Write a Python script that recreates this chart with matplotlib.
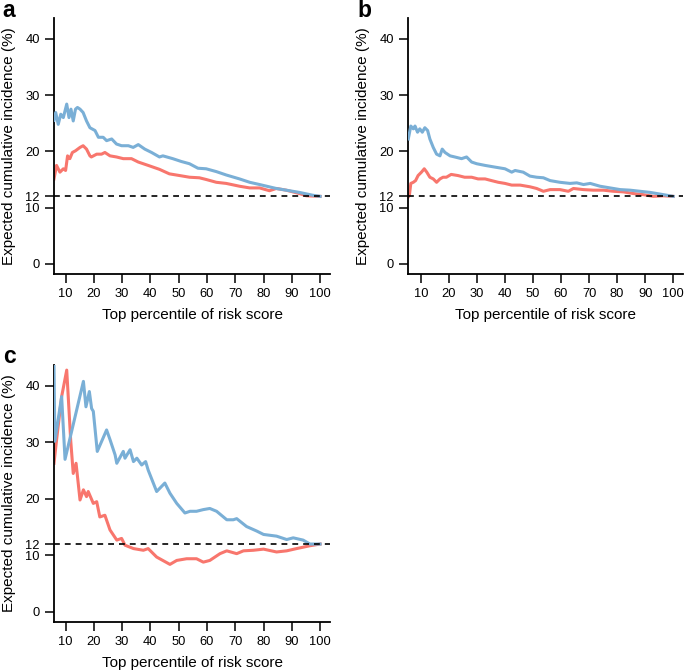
import matplotlib
matplotlib.use("Agg")
import matplotlib.pyplot as plt

plt.rcParams['font.family'] = ['Liberation Sans', 'DejaVu Sans']

BLUE = '#7aafd6'
RED = '#f8766d'

# Panel a
a_blue_x = [5.9, 6.5, 7.4, 8.3, 9.2, 10.4, 11.2, 11.9, 12.7, 13.5, 14.2, 15.1, 16.2, 17.4, 18.6, 20.4, 21.6, 23.3, 24.5, 26.3, 28.0, 29.8, 32.2, 33.9, 35.7, 38.0, 40.4, 43.2, 44.4, 47.9, 50.9, 53.8, 56.8, 59.7, 63.3, 66.8, 71.5, 75.1, 78.6, 84.5, 88.0, 92.7, 97.4, 100.0]
a_blue_y = [25.5, 26.9, 24.8, 26.6, 26.0, 28.4, 26.0, 27.5, 25.4, 27.5, 27.8, 27.5, 26.9, 25.4, 24.2, 23.7, 22.5, 22.5, 21.9, 22.2, 21.3, 21.0, 21.0, 20.7, 21.2, 20.4, 19.8, 19.0, 19.2, 18.7, 18.2, 17.8, 17.0, 16.9, 16.4, 15.8, 15.1, 14.5, 14.1, 13.4, 13.1, 12.7, 12.2, 12.0]
a_red_x = [5.9, 6.8, 8.0, 9.2, 10.0, 10.7, 11.5, 12.4, 13.5, 15.1, 16.2, 17.4, 18.6, 19.1, 21.0, 22.7, 23.9, 25.7, 28.0, 30.4, 33.3, 35.7, 39.2, 43.2, 46.7, 50.3, 53.8, 57.3, 59.7, 63.3, 66.8, 71.5, 75.1, 78.6, 82.1, 84.5, 88.0, 92.7, 95.1, 100.0]
a_red_y = [15.1, 17.5, 16.3, 16.9, 16.6, 19.2, 18.7, 19.8, 20.1, 20.7, 21.0, 20.4, 19.2, 19.0, 19.5, 19.5, 19.8, 19.2, 19.0, 18.7, 18.7, 18.1, 17.5, 16.8, 16.0, 15.7, 15.4, 15.3, 15.0, 14.5, 14.3, 13.8, 13.5, 13.5, 13.0, 13.4, 13.1, 12.5, 12.1, 12.0]

# Panel b
b_blue_x = [5.5, 6.4, 7.3, 7.9, 8.8, 9.6, 10.5, 11.4, 12.4, 13.2, 14.4, 15.6, 16.8, 17.6, 18.6, 20.4, 22.1, 24.5, 26.3, 28.1, 29.9, 32.9, 36.4, 40.0, 42.4, 43.6, 46.5, 48.9, 51.3, 53.7, 56.1, 59.6, 63.2, 65.6, 68.0, 70.4, 73.9, 77.5, 81.1, 84.6, 88.2, 91.8, 95.4, 100.0]
b_blue_y = [22.2, 24.5, 24.0, 24.5, 23.4, 24.0, 23.4, 24.2, 23.7, 22.2, 20.7, 19.5, 19.2, 20.4, 19.8, 19.2, 19.0, 18.7, 19.0, 18.1, 17.8, 17.5, 17.2, 16.9, 16.3, 16.6, 16.3, 15.6, 15.4, 15.3, 14.8, 14.5, 14.3, 14.4, 14.1, 14.3, 13.8, 13.5, 13.2, 13.1, 12.9, 12.7, 12.4, 12.0]
b_red_x = [5.5, 5.9, 6.4, 7.3, 8.1, 9.0, 10.2, 11.2, 12.1, 13.2, 14.4, 15.6, 16.8, 17.9, 19.1, 20.8, 23.2, 25.6, 28.1, 30.4, 32.9, 35.2, 37.6, 40.0, 42.4, 45.4, 48.9, 51.3, 53.7, 56.1, 59.6, 62.6, 64.4, 68.0, 71.5, 75.1, 78.7, 82.2, 85.8, 89.4, 92.9, 96.5, 100.0]
b_red_y = [11.9, 12.2, 14.3, 14.5, 14.8, 15.7, 16.3, 16.9, 16.3, 15.4, 15.1, 14.5, 15.1, 15.4, 15.4, 15.9, 15.7, 15.4, 15.4, 15.1, 15.1, 14.8, 14.5, 14.3, 14.0, 14.0, 13.7, 13.4, 12.9, 13.2, 13.2, 12.9, 13.4, 13.2, 13.1, 13.1, 12.9, 12.8, 12.5, 12.3, 12.0, 12.1, 12.0]

# Panel c
c_blue_x = [5.9, 6.2, 8.6, 9.8, 16.3, 17.2, 18.4, 19.2, 19.8, 21.2, 24.5, 25.7, 27.5, 28.1, 30.4, 31.0, 32.8, 34.0, 35.2, 36.9, 38.3, 39.2, 42.2, 45.1, 46.9, 49.3, 52.2, 54.0, 56.3, 58.7, 61.0, 63.4, 67.0, 69.3, 70.5, 74.0, 77.6, 80.0, 84.6, 88.2, 90.5, 94.0, 96.4, 100.0]
c_blue_y = [43.7, 30.2, 38.1, 27.0, 40.8, 36.3, 39.0, 36.0, 35.5, 28.4, 32.2, 30.5, 27.8, 26.3, 28.4, 27.2, 28.7, 26.6, 27.2, 26.0, 26.6, 25.1, 21.3, 22.8, 21.0, 19.2, 17.5, 17.8, 17.8, 18.1, 18.3, 17.8, 16.3, 16.3, 16.5, 15.1, 14.3, 13.7, 13.4, 12.8, 13.1, 12.7, 12.0, 12.0]
c_red_x = [5.9, 6.8, 8.6, 10.4, 11.8, 12.7, 13.7, 15.1, 16.3, 17.4, 18.0, 19.8, 21.0, 22.1, 23.9, 25.7, 28.1, 29.8, 31.0, 34.0, 37.5, 39.2, 42.2, 46.9, 49.3, 52.8, 56.3, 58.7, 61.0, 64.6, 67.0, 70.5, 72.9, 76.4, 80.0, 84.6, 88.2, 91.7, 96.4, 100.0]
c_red_y = [26.3, 30.4, 38.1, 42.8, 30.4, 24.5, 26.3, 19.8, 21.6, 20.4, 21.3, 19.2, 19.5, 16.8, 17.1, 14.5, 12.7, 13.0, 11.8, 11.2, 10.9, 11.2, 9.7, 8.4, 9.1, 9.4, 9.4, 8.8, 9.1, 10.3, 10.8, 10.3, 10.8, 10.9, 11.1, 10.6, 10.8, 11.2, 11.7, 12.0]

yticks = [0, 10, 12, 20, 30, 40]
xticks = [10, 20, 30, 40, 50, 60, 70, 80, 90, 100]
baseline = 12

fig = plt.figure(figsize=(6.85, 6.71), dpi=100)

W, H = 685, 671
def rect(l, r, t, b):
    return [l / W, 1 - b / H, (r - l) / W, (b - t) / H]

panels = [
    ('a', rect(54, 330, 18, 274), a_blue_x, a_blue_y, a_red_x, a_red_y, (5.9, 103.5), -0.188, 1.004),
    ('b', rect(408, 683, 18, 274), b_blue_x, b_blue_y, b_red_x, b_red_y, (5.4, 103.5), -0.185, 1.004),
    ('c', rect(54, 330, 365, 622), c_blue_x, c_blue_y, c_red_x, c_red_y, (5.9, 103.5), -0.185, 1.008),
]

for letter, r, bx, by, rx, ry, xl, lx, ly in panels:
    ax = fig.add_axes(r)
    ax.plot(bx, by, color=BLUE, lw=2.2, solid_joinstyle='round', zorder=3)
    ax.plot(rx, ry, color=RED, lw=2.2, solid_joinstyle='round', zorder=2)
    ax.axhline(baseline, color='black', lw=1.2, ls=(0, (3.5, 3)), zorder=4)
    ax.set_xlim(*xl)
    ax.set_ylim(-1.8, 43.7)
    ax.set_xticks(xticks)
    ax.set_yticks(yticks)
    for s in ['top', 'right']:
        ax.spines[s].set_visible(False)
    for s in ['left', 'bottom']:
        ax.spines[s].set_linewidth(1.3)
    ax.tick_params(direction='out', length=6.5, width=1.1, labelsize=9.3, pad=3.8, colors='black')
    ax.set_xlabel('Top percentile of risk score', fontsize=11)
    ax.set_ylabel('Expected cumulative incidence (%)', fontsize=11)
    ax.xaxis.set_label_coords(0.5, -0.134)
    ax.yaxis.set_label_coords(-0.138, 0.5)
    ax.text(lx, ly, letter, transform=ax.transAxes, fontsize=16.5,
            fontweight='bold', va='baseline', ha='left')

fig.savefig('out.png', dpi=100)
